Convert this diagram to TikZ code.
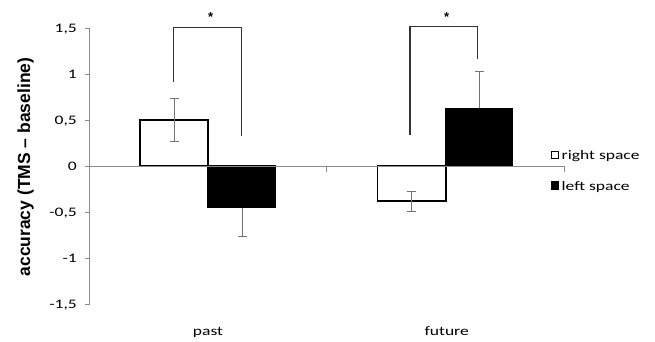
\documentclass[tikz,border=0pt]{standalone}
\usepackage{fontspec}
\usepackage{graphicx}
\newfontfamily\calib{Carlito}
\newfontfamily\arialf{Liberation Sans}
\newcommand\wide[1]{\scalebox{1.35}[1]{#1}}
\begin{document}
\begin{tikzpicture}[x=1pt,y=-1pt,
  axisline/.style={draw=black!45, line width=0.9pt},
  barw/.style={draw=black, fill=white, line width=1.2pt},
  bark/.style={draw=black, fill=black, line width=1.2pt},
  errbar/.style={draw=black!55, line width=0.9pt},
  sigline/.style={draw=black!80, line width=1.4pt},
  ticklab/.style={anchor=base east, inner sep=0pt, font=\calib\fontsize{13}{15}\selectfont},
  catlab/.style={anchor=base, inner sep=0pt, font=\calib\fontsize{13}{15}\selectfont},
  leglab/.style={anchor=base west, inner sep=0pt, font=\calib\fontsize{13}{15}\selectfont},
  starlab/.style={inner sep=0pt, font=\arialf\bfseries\fontsize{13}{15}\selectfont}]
\useasboundingbox[fill=white] (0,0) rectangle (655,341);
% axes
\draw[axisline] (89.5,28) -- (89.5,304);
\foreach \yy in {28,74,120,166,212,258,304} \draw[axisline] (84.5,\yy) -- (89.5,\yy);
% tick labels
\node[ticklab] (t1) at (77,32.1) {\wide{1,5}};
\node[ticklab] (t2) at (77,78.1) {\wide{1}};
\node[ticklab] (t3) at (77,124.1) {\wide{0,5}};
\node[ticklab] (t4) at (77,170.1) {\wide{0}};
\node[ticklab] (t5) at (77,216.1) {\wide{-0,5}};
\node[ticklab] (t6) at (77,262.1) {\wide{-1}};
\node[ticklab] (t7) at (77,308.1) {\wide{-1,5}};
% y label
\node[rotate=90, inner sep=0pt, font=\arialf\bfseries\fontsize{17.5}{20}\selectfont] (ylab) at (25.5,167) {accuracy (TMS – baseline)};
% bars: past
\draw[barw] (140,120) rectangle (208,166);
\draw[bark] (208,166) rectangle (275.7,207.3);
% bars: future
\draw[barw] (377.3,166) rectangle (446,201);
\draw[bark] (446,108.3) rectangle (512.7,166);
% zero line
\draw[axisline] (89.5,166) -- (564,166);
\draw[axisline] (326.7,166) -- (326.7,171.5);
\draw[axisline] (564,166) -- (564,171.5);
% error bars
\draw[errbar] (174,98.3) -- (174,141.7);
\draw[errbar] (169.5,98.3) -- (178.5,98.3);
\draw[errbar] (169.5,141.7) -- (178.5,141.7);
\draw[errbar] (242.7,208) -- (242.7,236);
\draw[errbar] (238.2,236) -- (247.2,236);
\draw[errbar] (411,191) -- (411,211.7);
\draw[errbar] (406.5,191) -- (415.5,191);
\draw[errbar] (406.5,211.7) -- (415.5,211.7);
\draw[errbar] (479.3,107.5) -- (479.3,71);
\draw[errbar] (474.8,71) -- (483.8,71);
% significance brackets
\draw[sigline] (173.3,81.7) -- (173.3,27.7) -- (241.7,27.7) -- (241.7,135.7);
\node[starlab] (s1) at (210.7,17) {*};
\draw[sigline] (410,135) -- (410,26.7) -- (477.7,26.7) -- (477.7,59);
\node[starlab] (s2) at (446.7,17) {*};
% legend
\draw[draw=black, fill=white, line width=1pt] (551,151.2) rectangle (558.4,158.8);
\node[leglab] (lr) at (561.5,159.3) {\wide{right space}};
\draw[draw=black, fill=black, line width=0.6pt] (551,181) rectangle (558.4,189);
\node[leglab] (ll) at (561.5,190) {\wide{left space}};
% category labels
\node[catlab] (cp) at (208,335) {\wide{past}};
\node[catlab] (cf) at (446.7,335) {\wide{future}};
\end{tikzpicture}
\end{document}
